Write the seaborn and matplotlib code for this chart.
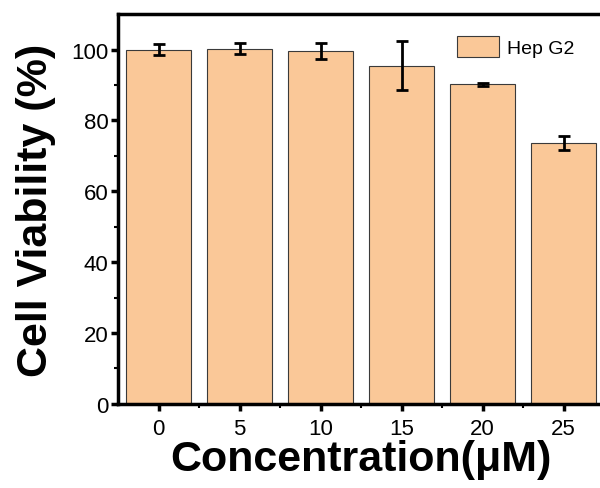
import matplotlib
matplotlib.use("Agg")
import matplotlib.pyplot as plt
import seaborn as sns
import pandas as pd
from matplotlib.ticker import FixedLocator

concentrations = ["0", "5", "10", "15", "20", "25"]
viability = [100.0, 100.3, 99.7, 95.5, 90.2, 73.7]
errors = [1.5, 1.6, 2.3, 7.0, 0.4, 2.0]
series_name = "Hep G2"

sns.set_theme(style="ticks")
plt.rcParams['font.family'] = ['Liberation Sans', 'DejaVu Sans']
plt.rcParams['text.color'] = 'black'
plt.rcParams['axes.labelcolor'] = 'black'
plt.rcParams['xtick.color'] = 'black'
plt.rcParams['ytick.color'] = 'black'

df = pd.DataFrame({"Concentration": concentrations, "Viability": viability})

fig = plt.figure(figsize=(6.0, 4.89), dpi=100)
ax = fig.add_axes([0.197, 0.172, 0.81, 0.797])

sns.barplot(data=df, x="Concentration", y="Viability", color="#FAC898",
            saturation=1, width=0.8, edgecolor="#3a3a3a", linewidth=0.8,
            errorbar=None, ax=ax, label=series_name)
ax.errorbar(range(len(concentrations)), viability, yerr=errors, fmt="none",
            ecolor="black", elinewidth=2, capsize=4, capthick=2)

ax.set_xlim(-0.5, 5.5)
ax.set_ylim(0, 110)
ax.yaxis.set_major_locator(FixedLocator([0, 20, 40, 60, 80, 100]))
ax.yaxis.set_minor_locator(FixedLocator([10, 30, 50, 70, 90]))
ax.xaxis.set_minor_locator(FixedLocator([0.5, 1.5, 2.5, 3.5, 4.5]))

for s in ax.spines.values():
    s.set_linewidth(2.5)
    s.set_color("black")
ax.tick_params(axis="both", which="major", length=5, width=2.5, labelsize=16,
               colors="black", direction="out")
ax.tick_params(axis="both", which="minor", length=3, width=1.5, direction="out")
ax.tick_params(axis="y", pad=2)
ax.tick_params(axis="x", pad=5)

ax.set_xlabel("Concentration(μM)", fontsize=31, fontweight="bold", labelpad=0)
ax.set_ylabel("Cell Viability (%)", fontsize=31, fontweight="bold", labelpad=11)

ax.legend(loc="upper right", frameon=False, fontsize=14, handlelength=2.2,
          handleheight=1.3, handletextpad=0.4, borderaxespad=0,
          bbox_to_anchor=(0.955, 0.965))

fig.savefig("out.png", dpi=100)
